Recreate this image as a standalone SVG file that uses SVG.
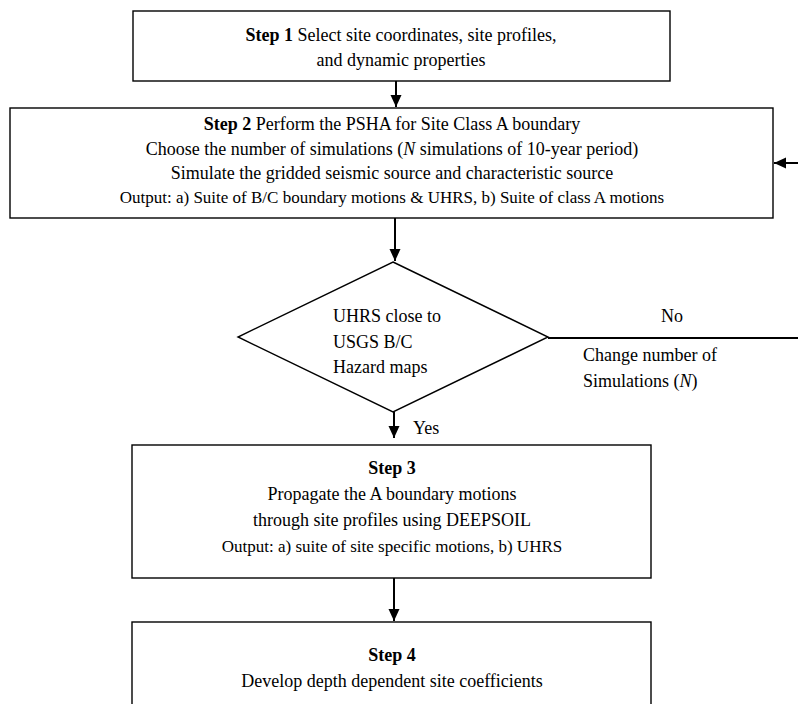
<svg xmlns="http://www.w3.org/2000/svg" width="798" height="704" viewBox="0 0 798 704">
<defs>
<style>
.box{fill:#fff;stroke:#000;stroke-width:1.4}
.con{fill:none;stroke:#000;stroke-width:2}
</style>
<marker id="ah" markerUnits="userSpaceOnUse" markerWidth="12" markerHeight="12" viewBox="0 0 12 12" refX="12" refY="6" orient="auto">
<path d="M0,0.5 L12,6 L0,11.5 Z" fill="#000"/>
</marker>
</defs>
<rect width="798" height="704" fill="#fff"/>
<g id="step1">
<rect class="box" x="133" y="11" width="537" height="70"/>
<text font-family="Liberation Serif" font-size="18" text-anchor="middle" x="401" y="41"><tspan font-weight="bold">Step 1</tspan> Select site coordinates, site profiles,</text>
<text font-family="Liberation Serif" font-size="18" text-anchor="middle" x="401" y="66">and dynamic properties</text>
</g>
<g id="step2">
<rect class="box" x="10" y="108" width="763" height="110"/>
<text font-family="Liberation Serif" font-size="18" text-anchor="middle" x="392" y="130"><tspan font-weight="bold">Step 2</tspan> Perform the PSHA for Site Class A boundary</text>
<text font-family="Liberation Serif" font-size="18" text-anchor="middle" x="392" y="155">Choose the number of simulations (<tspan font-style="italic">N</tspan> simulations of 10-year period)</text>
<text font-family="Liberation Serif" font-size="18" text-anchor="middle" x="392" y="179">Simulate the gridded seismic source and characteristic source</text>
<text font-family="Liberation Serif" font-size="17" text-anchor="middle" x="392" y="203">Output: a) Suite of B/C boundary motions &amp; UHRS, b) Suite of class A motions</text>
</g>
<g id="decision">
<polygon class="box" points="393,262 548,337 393,412 238,337"/>
<text font-family="Liberation Serif" font-size="18" x="333" y="322">UHRS close to</text>
<text font-family="Liberation Serif" font-size="18" x="333" y="348">USGS B/C</text>
<text font-family="Liberation Serif" font-size="18" x="333" y="373">Hazard maps</text>
</g>
<g id="step3">
<rect class="box" x="132" y="445" width="519" height="133"/>
<text font-family="Liberation Serif" font-size="18" font-weight="bold" text-anchor="middle" x="392" y="474">Step 3</text>
<text font-family="Liberation Serif" font-size="18" text-anchor="middle" x="392" y="500">Propagate the A boundary motions</text>
<text font-family="Liberation Serif" font-size="18" text-anchor="middle" x="392" y="526">through site profiles using DEEPSOIL</text>
<text font-family="Liberation Serif" font-size="17" text-anchor="middle" x="392" y="552">Output: a) suite of site specific motions, b) UHRS</text>
</g>
<g id="step4">
<rect class="box" x="132" y="622" width="519" height="100"/>
<text font-family="Liberation Serif" font-size="18" font-weight="bold" text-anchor="middle" x="392" y="661">Step 4</text>
<text font-family="Liberation Serif" font-size="18" text-anchor="middle" x="392" y="687">Develop depth dependent site coefficients</text>
</g>
<g id="connectors">
<line class="con" x1="396" y1="81" x2="396" y2="107" marker-end="url(#ah)"/>
<line class="con" x1="395" y1="218" x2="395" y2="261" marker-end="url(#ah)"/>
<line class="con" x1="394" y1="412" x2="394" y2="438" marker-end="url(#ah)"/>
<line class="con" x1="394" y1="578" x2="394" y2="621" marker-end="url(#ah)"/>
<polyline class="con" points="548,338 802,338 802,163 774,163" marker-end="url(#ah)"/>
<text font-family="Liberation Serif" font-size="18" x="413" y="434">Yes</text>
<text font-family="Liberation Serif" font-size="18" text-anchor="middle" x="672" y="322">No</text>
<text font-family="Liberation Serif" font-size="18" x="583" y="361">Change number of</text>
<text font-family="Liberation Serif" font-size="18" x="583" y="387">Simulations (<tspan font-style="italic">N</tspan>)</text>
</g>
</svg>
